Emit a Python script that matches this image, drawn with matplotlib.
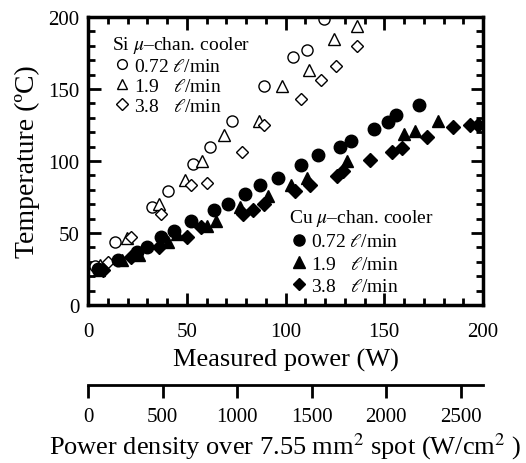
import numpy as np
import matplotlib
matplotlib.use("Agg")
import matplotlib.pyplot as plt
from matplotlib.lines import Line2D
from matplotlib.ticker import MultipleLocator, FixedLocator

plt.rcParams['font.family'] = ['Liberation Serif', 'DejaVu Serif']
plt.rcParams['mathtext.fontset'] = 'stix'

# Si micro-channel cooler (open markers)
si_072_w = [3.5, 13.7, 32.4, 40.5, 53, 62, 73, 89, 104, 111, 119.5]
si_072_t = [27, 44, 68, 79, 98, 110, 127.5, 152, 172, 177, 198.6]
si_19_w = [6, 19.7, 36, 49, 57.7, 69, 86.6, 98, 112, 124.6, 136]
si_19_t = [28, 46.7, 70, 87, 100, 118, 128, 152, 163, 185, 194]
si_38_w = [10, 22, 37, 52, 60, 78, 89, 108, 118, 125.6, 136]
si_38_t = [30, 47, 63, 83, 85, 106, 125, 143, 156, 166, 180]

# Cu micro-channel cooler (filled markers)
cu_072_w = [5, 15, 25, 30, 37, 43.5, 52, 64, 71, 79.5, 87, 96, 108, 116.5,
            127.6, 133, 145, 152, 156, 167.6]
cu_072_t = [25, 31, 37, 40.5, 47.5, 51.5, 58, 66, 70.4, 77, 83, 88, 97, 104,
            109.6, 114, 122, 127, 132, 139]
cu_19_w = [5.5, 17, 26, 40.5, 45, 60, 65, 77, 91, 103, 111, 131, 160, 165.5, 177]
cu_19_t = [24, 31, 35, 44, 49, 55, 58, 68, 76, 83, 88, 100, 118.5, 121, 127.5]
cu_38_w = [7.5, 22, 36, 50, 57, 78.5, 83.5, 89, 105, 112.5, 126, 129, 143,
           154, 159, 171.6, 185, 193.4, 197.5]
cu_38_t = [24, 33.6, 40, 47, 54, 63, 65.7, 70, 79, 83, 89.5, 93, 101,
           106.5, 109, 117, 123.5, 124.7, 124.7]

density_ticks = [0, 500, 1000, 1500, 2000, 2500]
spot_cm2 = 0.0755

fig = plt.figure(figsize=(5.26, 4.64), dpi=100)
ax = fig.add_axes([0.1673, 0.3405, 0.751, 0.6207])

ms = 8
ax.plot(si_072_w, si_072_t, 'o', ms=ms, mfc='white', mec='black', mew=1.0)
ax.plot(si_19_w, si_19_t, '^', ms=ms, mfc='white', mec='black', mew=1.0)
ax.plot(si_38_w, si_38_t, 'D', ms=6.5, mfc='white', mec='black', mew=1.0)
ax.plot(cu_072_w, cu_072_t, 'o', ms=ms + 1, color='black')
ax.plot(cu_19_w, cu_19_t, '^', ms=ms + 1, color='black')
ax.plot(cu_38_w, cu_38_t, 'D', ms=7, color='black')

ax.set_xlim(0, 200)
ax.set_ylim(0, 200)
ax.xaxis.set_major_locator(MultipleLocator(50))
ax.xaxis.set_minor_locator(MultipleLocator(10))
ax.yaxis.set_major_locator(MultipleLocator(50))
ax.yaxis.set_minor_locator(MultipleLocator(10))
ax.tick_params(which='both', direction='in', top=True, right=True,
               labelsize=15, width=2)
ax.tick_params(axis='x', which='both', pad=12)
ax.tick_params(axis='y', which='both', pad=6)
ax.tick_params(which='major', length=9)
ax.tick_params(which='minor', length=5)
for s in ax.spines.values():
    s.set_linewidth(2.5)

ax.set_xlabel('Measured power (W)', fontsize=19, labelpad=5)
ax.set_ylabel('Temperature (ºC)', fontsize=20, labelpad=6)

# legends
leg_kw = dict(frameon=False, fontsize=14, title_fontsize=14, alignment='left',
              handletextpad=0.1, handlelength=1.0,
              borderpad=0.0, borderaxespad=0.0)
si_handles = [
    Line2D([], [], ls='', marker='o', ms=7, mfc='white', mec='black'),
    Line2D([], [], ls='', marker='^', ms=7, mfc='white', mec='black'),
    Line2D([], [], ls='', marker='D', ms=6, mfc='white', mec='black'),
]
labels = ['0.72 $\\ell$/min', '1.9   $\\ell$/min', '3.8   $\\ell$/min']
leg1 = ax.legend(si_handles, labels, title='Si $\\mu$–chan. cooler',
                 loc='upper left', bbox_to_anchor=(0.062, 0.942),
                 labelspacing=0.12, **leg_kw)
ax.add_artist(leg1)
cu_handles = [
    Line2D([], [], ls='', marker='o', ms=8, color='black'),
    Line2D([], [], ls='', marker='^', ms=8, color='black'),
    Line2D([], [], ls='', marker='D', ms=6, color='black'),
]
ax.legend(cu_handles, labels, title='Cu $\\mu$–chan. cooler',
          loc='upper left', bbox_to_anchor=(0.51, 0.34),
          labelspacing=0.24, **leg_kw)

# power density axis
sec = ax.secondary_xaxis(-0.278, functions=(lambda w: w / spot_cm2,
                                            lambda d: d * spot_cm2))
sec.xaxis.set_major_locator(FixedLocator(density_ticks))
sec.tick_params(direction='out', length=9, width=2, labelsize=15, pad=7)
sec.spines['bottom'].set_linewidth(2)
sec.set_xlabel('Power density over 7.55 mm$^2$ spot (W/cm$^2$ )',
               fontsize=19, labelpad=3)

fig.savefig('out.png', dpi=100)
